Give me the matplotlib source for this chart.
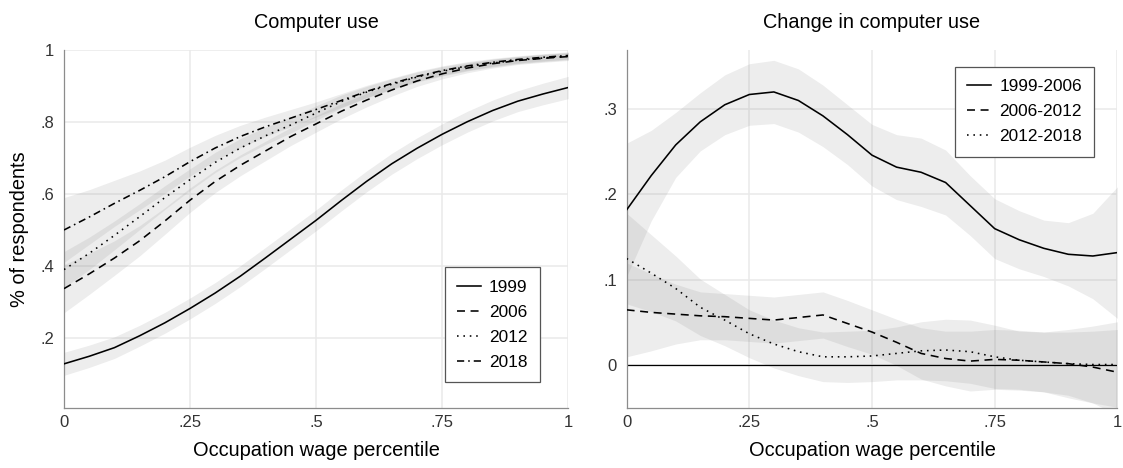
#!/usr/bin/env python3
"""Computer use by occupation wage percentile, levels and changes."""

import matplotlib
matplotlib.use('Agg')
import matplotlib.pyplot as plt
import numpy as np

plt.rcParams['font.family'] = ['Liberation Sans', 'DejaVu Sans']
plt.rcParams['font.size'] = 12

# ---------------------------------------------------------------------------
# Data
# ---------------------------------------------------------------------------
pct = np.round(np.arange(0, 1.0001, 0.05), 2)

# left panel: share using a computer
years = ['1999', '2006', '2012', '2018']
use_1999 = [0.128, 0.149, 0.173, 0.206, 0.242, 0.282, 0.325, 0.372, 0.423, 0.475, 0.527,
            0.582, 0.635, 0.684, 0.727, 0.766, 0.801, 0.832, 0.858, 0.878, 0.896]
use_2006 = [0.337, 0.378, 0.422, 0.470, 0.525, 0.583, 0.635, 0.680, 0.720, 0.760, 0.795,
            0.830, 0.861, 0.889, 0.914, 0.934, 0.950, 0.962, 0.971, 0.977, 0.982]
use_2012 = [0.390, 0.435, 0.485, 0.537, 0.590, 0.640, 0.688, 0.728, 0.762, 0.792, 0.825,
            0.857, 0.883, 0.905, 0.925, 0.941, 0.954, 0.964, 0.972, 0.978, 0.983]
use_2018 = [0.500, 0.536, 0.574, 0.610, 0.648, 0.690, 0.728, 0.760, 0.787, 0.811, 0.835,
            0.860, 0.885, 0.907, 0.927, 0.943, 0.956, 0.966, 0.974, 0.980, 0.985]
# CI half-widths
ci_1999 = [0.032, 0.031, 0.030, 0.029, 0.029, 0.029, 0.029, 0.029, 0.029, 0.029, 0.029,
           0.029, 0.029, 0.029, 0.029, 0.029, 0.029, 0.029, 0.029, 0.030, 0.031]
ci_2006 = [0.067, 0.057, 0.048, 0.042, 0.037, 0.034, 0.031, 0.029, 0.027, 0.025, 0.023,
           0.021, 0.019, 0.017, 0.015, 0.014, 0.013, 0.012, 0.011, 0.011, 0.011]
ci_2012 = [0.050, 0.045, 0.040, 0.036, 0.033, 0.030, 0.028, 0.026, 0.024, 0.022, 0.020,
           0.018, 0.016, 0.015, 0.014, 0.013, 0.012, 0.011, 0.010, 0.010, 0.010]
ci_2018 = [0.090, 0.076, 0.064, 0.054, 0.046, 0.040, 0.035, 0.031, 0.027, 0.024, 0.021,
           0.019, 0.017, 0.015, 0.014, 0.013, 0.012, 0.011, 0.010, 0.010, 0.010]

# right panel: change in computer use
periods = ['1999-2006', '2006-2012', '2012-2018']
chg_99_06 = [0.182, 0.222, 0.258, 0.285, 0.305, 0.317, 0.320, 0.310, 0.292, 0.270, 0.246,
             0.232, 0.226, 0.214, 0.187, 0.160, 0.147, 0.137, 0.130, 0.128, 0.132]
chg_06_12 = [0.065, 0.062, 0.060, 0.058, 0.057, 0.055, 0.053, 0.056, 0.059, 0.049, 0.039,
             0.027, 0.014, 0.008, 0.005, 0.007, 0.006, 0.004, 0.002, -0.002, -0.008]
chg_12_18 = [0.125, 0.108, 0.090, 0.068, 0.053, 0.037, 0.025, 0.016, 0.010, 0.010, 0.011,
             0.014, 0.017, 0.018, 0.016, 0.010, 0.006, 0.004, 0.002, 0.001, 0.001]
ci_99_06 = [0.078, 0.053, 0.038, 0.034, 0.035, 0.036, 0.037, 0.037, 0.036, 0.035, 0.036,
            0.038, 0.040, 0.038, 0.035, 0.035, 0.034, 0.033, 0.037, 0.050, 0.077]
ci_06_12 = [0.055, 0.045, 0.035, 0.028, 0.027, 0.027, 0.027, 0.027, 0.027, 0.027, 0.026,
            0.027, 0.030, 0.032, 0.035, 0.035, 0.035, 0.035, 0.037, 0.042, 0.050]
ci_12_18 = [0.053, 0.045, 0.038, 0.033, 0.030, 0.028, 0.028, 0.028, 0.029, 0.030, 0.030,
            0.031, 0.034, 0.036, 0.037, 0.037, 0.034, 0.035, 0.040, 0.045, 0.050]

# ---------------------------------------------------------------------------
# Plot
# ---------------------------------------------------------------------------
fig = plt.figure(figsize=(11.23, 4.68), dpi=100)
ax1 = fig.add_axes([0.057, 0.128, 0.449, 0.765])
ax2 = fig.add_axes([0.558, 0.128, 0.437, 0.765])

band_kw = dict(color='gray', alpha=0.14, linewidth=0, zorder=2)
styles = ['-', (0, (5, 3.5)), (0, (1, 3)), (0, (4.5, 2.5, 1, 2.5))]
line_kw = dict(color='black', linewidth=1.15, zorder=3)

for ax in (ax1, ax2):
    ax.grid(True, color='#e9e9e9', linewidth=1.1, zorder=0)
    ax.set_axisbelow(True)
    for side in ('top', 'right'):
        ax.spines[side].set_visible(False)
    for side in ('left', 'bottom'):
        ax.spines[side].set_color('#8c8c8c')
        ax.spines[side].set_linewidth(0.9)
    ax.tick_params(length=0, labelcolor='#333333', labelsize=12)
    ax.tick_params(axis='x', pad=5)
    ax.tick_params(axis='y', pad=7)
    ax.set_xlim(0, 1)
    ax.set_xticks([0, 0.25, 0.5, 0.75, 1])
    ax.set_xticklabels(['0', '.25', '.5', '.75', '1'])
    ax.set_xlabel('Occupation wage percentile', fontsize=14.4, labelpad=8)

leg_kw = dict(fontsize=12.4, handlelength=1.4, handletextpad=0.45, labelspacing=0.57,
              borderpad=0.72, fancybox=False, framealpha=1, edgecolor='#555555')

# left panel
levels = [use_1999, use_2006, use_2012, use_2018]
cis = [ci_1999, ci_2006, ci_2012, ci_2018]
for vals, ci in zip(levels, cis):
    v, c = np.array(vals), np.array(ci)
    ax1.fill_between(pct, v - c, v + c, **band_kw)
for vals, ls, lab in zip(levels, styles, years):
    ax1.plot(pct, vals, linestyle=ls, label=lab, **line_kw)

ax1.set_ylim(0.005, 1.0)
ax1.set_yticks([0.2, 0.4, 0.6, 0.8, 1.0])
ax1.set_yticklabels(['.2', '.4', '.6', '.8', '1'])
ax1.set_ylabel('% of respondents', fontsize=14.4, labelpad=8)
ax1.set_title('Computer use', fontsize=14.3, pad=16)
leg1 = ax1.legend(loc='lower right', bbox_to_anchor=(0.944, 0.073), borderaxespad=0,
                  **leg_kw)
leg1.get_frame().set_linewidth(0.9)

# right panel
changes = [chg_99_06, chg_06_12, chg_12_18]
cis2 = [ci_99_06, ci_06_12, ci_12_18]
for vals, ci in zip(changes, cis2):
    v, c = np.array(vals), np.array(ci)
    ax2.fill_between(pct, v - c, v + c, **band_kw)
ax2.axhline(0, color='black', linewidth=0.9, zorder=2.5)
for vals, ls, lab in zip(changes, styles[:3], periods):
    ax2.plot(pct, vals, linestyle=ls, label=lab, **line_kw)

ax2.set_ylim(-0.05, 0.369)
ax2.set_yticks([0, 0.1, 0.2, 0.3])
ax2.set_yticklabels(['0', '.1', '.2', '.3'])
ax2.set_title('Change in computer use', fontsize=14.3, pad=16)
leg2 = ax2.legend(loc='upper right', bbox_to_anchor=(0.953, 0.953), borderaxespad=0,
                  **leg_kw)
leg2.get_frame().set_linewidth(0.9)

fig.savefig('out.png', dpi=100, facecolor='white')
plt.close(fig)
